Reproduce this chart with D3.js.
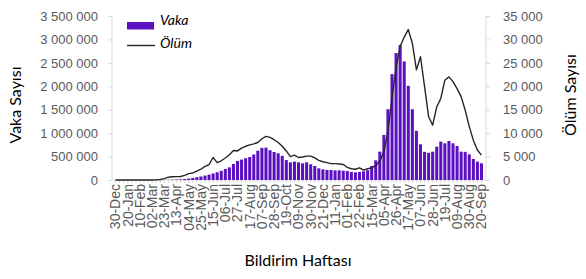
<!DOCTYPE html>
<html lang="tr">
<head>
<meta charset="UTF-8">
<title>Vaka ve Ölüm Sayısı</title>
<script src="https://d3js.org/d3.v7.min.js"></script>
<style>
  body { margin: 0; background: white; }
  svg { display: block; font-family: Lato, "Open Sans", sans-serif; }
  .axis path, .axis line { stroke: #d9d9d9; }
  .axis text { fill: #595959; font-size: 13px; }
  .xaxis text { font-size: 14px; }
</style>
</head>
<body>
<script>
// haftalık veriler: 30-Dec-2019 .. 20-Sep-2021 (91 hafta)
const cases = [
  0, 0, 0, 0, 0, 0, 0, 0, 0, 0,
  200, 1000, 2500, 5000, 8000, 11000, 15000, 22000, 30000, 45000,
  60000, 75000, 95000, 115000, 140000, 165000, 195000, 235000, 270000, 342000,
  406000, 435000, 465000, 490000, 545000, 625000, 685000, 690000, 635000, 598000,
  570000, 515000, 425000, 377000, 392000, 377000, 356000, 377000, 335000, 299000,
  249000, 228000, 214000, 214000, 207000, 207000, 199000, 192000, 171000, 164000,
  171000, 185000, 210000, 299000, 420000, 605000, 962000, 1510000, 2260000, 2710000,
  2880000, 2530000, 2010000, 1510000, 1050000, 762000, 600000, 580000, 605000, 712000,
  819000, 783000, 833000, 783000, 726000, 605000, 600000, 548000, 449000, 392000,
  356000
];
const deaths = [
  0, 0, 0, 0, 0, 0, 0, 0, 0, 0,
  20, 100, 300, 600, 700, 720, 750, 1000, 1350, 1500,
  1900, 2300, 2900, 3300, 4800, 3700, 4100, 4700, 5400, 6300,
  6200, 6800, 7200, 7500, 7700, 8000, 8800, 9300, 9100, 8600,
  8000, 7200, 6200, 5000, 5300, 4800, 4900, 5100, 5100, 4700,
  4200, 3900, 3700, 3500, 3500, 3400, 3300, 2700, 2400, 2300,
  2600, 2100, 2400, 2600, 3100, 4000, 6000, 10500, 17500, 24000,
  28500, 30500, 32100, 29200, 23500, 26300, 20000, 13500, 11700, 15600,
  17400, 21300, 22000, 21000, 19500, 17800, 14900, 11400, 8500, 6400,
  5300
];
const tickLabels = [
  "30-Dec", "20-Jan", "10-Feb", "02-Mar", "23-Mar", "13-Apr", "04-May", "25-May",
  "15-Jun", "06-Jul", "27-Jul", "17-Aug", "07-Sep", "28-Sep", "19-Oct", "09-Nov",
  "30-Nov", "21-Dec", "11-Jan", "01-Feb", "22-Feb", "15-Mar", "05-Apr", "26-Apr",
  "17-May", "07-Jun", "28-Jun", "19-Jul", "09-Aug", "30-Aug", "20-Sep"
];
const caseTicks = [0, 500000, 1000000, 1500000, 2000000, 2500000, 3000000, 3500000];
const deathTicks = [0, 5000, 10000, 15000, 20000, 25000, 30000, 35000];

const weeks = d3.range(cases.length);
const barColor = "#5b10c2";
const lineColor = "#262626";

const svg = d3.select("body").append("svg")
  .attr("width", 586)
  .attr("height", 279);

const x = d3.scaleBand().domain(weeks).range([113, 484]).padding(0.25);
const yL = d3.scaleLinear().domain([0, 3500000]).range([180, 16]);
const yR = d3.scaleLinear().domain([0, 35000]).range([180, 16]);

const spaced = d => d3.format(",")(d).replace(/,/g, " ");

// eksenler
svg.append("g").attr("class", "axis")
  .attr("transform", "translate(112,0)")
  .call(d3.axisLeft(yL).tickValues(caseTicks).tickSize(4).tickPadding(10).tickFormat(spaced))
  .call(g => g.select(".domain").attr("d", "M0,16V180"));

svg.append("g").attr("class", "axis")
  .attr("transform", "translate(486,0)")
  .call(d3.axisRight(yR).tickValues(deathTicks).tickSize(4).tickPadding(13).tickFormat(spaced))
  .call(g => g.select(".domain").attr("d", "M0,16V180"));

const xAxis = svg.append("g").attr("class", "axis xaxis")
  .attr("transform", "translate(0,180)")
  .call(d3.axisBottom(x).tickSize(3).tickFormat(i => i % 3 === 0 ? tickLabels[i / 3] : ""));
xAxis.select(".domain").attr("d", "M112,0H486");
xAxis.selectAll(".tick text")
  .attr("transform", "rotate(-90)")
  .attr("text-anchor", "end")
  .attr("x", -4)
  .attr("y", 0)
  .attr("dy", "0.35em");

// barlar
svg.append("g").selectAll("rect")
  .data(cases)
  .join("rect")
  .attr("x", (d, i) => x(i))
  .attr("width", x.bandwidth())
  .attr("y", d => yL(d))
  .attr("height", d => yL(0) - yL(d))
  .attr("fill", barColor);

// ölüm çizgisi
svg.append("path")
  .datum(deaths)
  .attr("fill", "none")
  .attr("stroke", lineColor)
  .attr("stroke-width", 1.4)
  .attr("stroke-linejoin", "round")
  .attr("d", d3.line().x((d, i) => x(i) + x.bandwidth() / 2).y(d => yR(d)));

// lejant
svg.append("rect").attr("x", 127).attr("y", 22).attr("width", 27).attr("height", 7.5).attr("fill", barColor);
svg.append("line").attr("x1", 127).attr("x2", 155).attr("y1", 45.5).attr("y2", 45.5)
  .attr("stroke", lineColor).attr("stroke-width", 1.4);
svg.append("text").attr("x", 160).attr("y", 25).text("Vaka")
  .attr("font-size", 14).attr("font-style", "italic").attr("fill", "#000");
svg.append("text").attr("x", 160).attr("y", 48).text("Ölüm")
  .attr("font-size", 14).attr("font-style", "italic").attr("fill", "#000");

// eksen başlıkları
svg.append("text").attr("transform", "translate(21,105) rotate(-90)")
  .attr("text-anchor", "middle").attr("font-size", 16).attr("fill", "#000").text("Vaka Sayısı");
svg.append("text").attr("transform", "translate(576,95) rotate(-90)")
  .attr("text-anchor", "middle").attr("font-size", 16).attr("fill", "#000").text("Ölüm Sayısı");
svg.append("text").attr("x", 298).attr("y", 266)
  .attr("text-anchor", "middle").attr("font-size", 16).attr("fill", "#000").text("Bildirim Haftası");
</script>
</body>
</html>
